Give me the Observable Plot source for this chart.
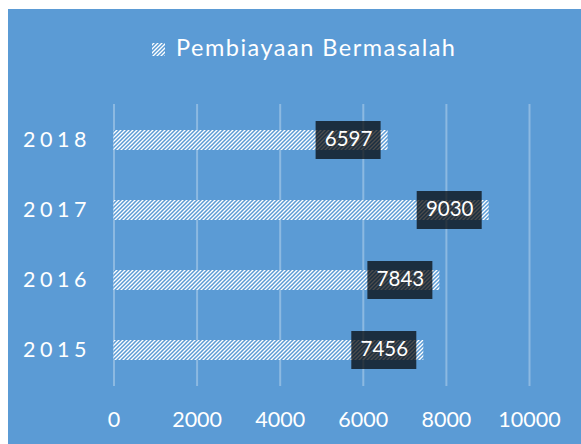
<!DOCTYPE html>
<html>
<head>
<meta charset="utf-8">
<script src="https://cdn.jsdelivr.net/npm/d3@7"></script>
<script src="https://cdn.jsdelivr.net/npm/@observablehq/plot@0.6"></script>
<style>
  html, body { margin: 0; padding: 0; background: #ffffff; }
  #frame { position: absolute; left: 8px; top: 9px; width: 573px; height: 435px; background: #5B9BD5; overflow: hidden; font-family: Lato, "Open Sans", sans-serif; color: #ffffff; }
  #legend-swatch { position: absolute; left: 144px; top: 34px; width: 13px; height: 13px; }
  #legend-text { position: absolute; left: 168px; top: 27px; font-size: 23.5px; line-height: 23.5px; letter-spacing: 1.5px; white-space: nowrap; }
  #chart { position: absolute; left: 0; top: 0; }
</style>
</head>
<body>
<div id="frame">
  <svg id="legend-swatch" width="13" height="13" viewBox="0 0 13 13">
    <defs>
      <pattern id="hatchLegend" patternUnits="userSpaceOnUse" width="4" height="4">
        <rect width="4" height="4" fill="#ffffff"></rect>
        <path d="M-1,1 l2,-2 M0,4 l4,-4 M3,5 l2,-2" stroke="#5B9BD5" stroke-width="1.5"></path>
      </pattern>
    </defs>
    <rect width="13" height="13" fill="url(#hatchLegend)"></rect>
  </svg>
  <div id="legend-text"></div>
  <div id="chart"></div>
</div>
<script>
// ---- data ----
const seriesName = "Pembiayaan Bermasalah";
const years = ["2018", "2017", "2016", "2015"];
const values = [6597, 9030, 7843, 7456];
const xTicks = [0, 2000, 4000, 6000, 8000, 10000];

const data = years.map((y, i) => ({ year: y, value: values[i] }));

document.getElementById("legend-text").textContent = seriesName;

const chart = Plot.plot({
  width: 573,
  height: 435,
  marginLeft: 105.5,
  marginRight: 52,
  marginTop: 95,
  marginBottom: 58,
  style: { background: "transparent", color: "#ffffff", fontFamily: "Lato, 'Open Sans', sans-serif", overflow: "visible" },
  x: { domain: [0, 10000] },
  y: { domain: years, paddingInner: 0.71, paddingOuter: 0.355 },
  marks: [
    Plot.gridX(xTicks, { stroke: "#ffffff", strokeOpacity: 0.3, strokeWidth: 2 }),
    Plot.barX(data, { x: "value", y: "year", fill: "url(#hatchBar)" }),
    Plot.barX(data, { x1: "value", x2: "value", y: "year", fill: "#000000", fillOpacity: 0.7,
      insetLeft: -72, insetRight: 7, insetTop: -9, insetBottom: -9 }),
    Plot.text(data, { x: "value", y: "year", text: d => String(d.value), dx: -39.5, dy: -1,
      fill: "#ffffff", fontSize: 20.5 }),
    Plot.axisX(xTicks, { tickSize: 0, tickPadding: 25, fontSize: 21.5, tickFormat: d => String(d), label: null }),
    Plot.axisY({ tickSize: 0, tickPadding: 23, fontSize: 21.5, label: null })
  ]
});

// hatch pattern definition for the bars
const ns = "http://www.w3.org/2000/svg";
const defs = document.createElementNS(ns, "defs");
defs.innerHTML = '<pattern id="hatchBar" patternUnits="userSpaceOnUse" width="4" height="4">' +
  '<rect width="4" height="4" fill="#ffffff"></rect>' +
  '<path d="M-1,1 l2,-2 M0,4 l4,-4 M3,5 l2,-2" stroke="#5B9BD5" stroke-width="1.5"></path></pattern>';
chart.insertBefore(defs, chart.firstChild);

// letter-spaced year labels
chart.querySelectorAll("g[aria-label='y-axis tick label'] text").forEach(t => t.setAttribute("letter-spacing", "4.5"));

document.getElementById("chart").appendChild(chart);
</script>
</body>
</html>
